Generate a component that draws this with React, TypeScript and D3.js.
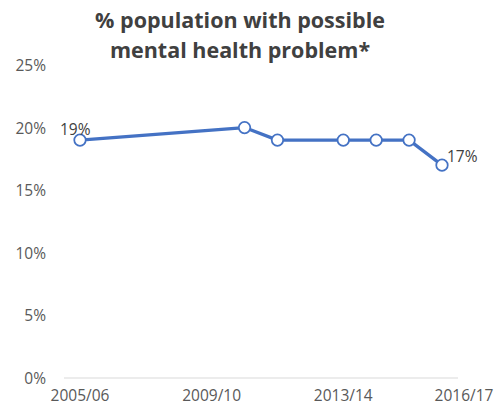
import React from "react";
import * as d3 from "d3";

const categories = ["2005/06","2006/07","2007/08","2008/09","2009/10","2010/11","2011/12","2012/13","2013/14","2014/15","2015/16","2016/17"];
const values: (number | null)[] = [19, null, null, null, null, 20, 19, null, 19, 19, 19, 17];
const yTicks = [0, 5, 10, 15, 20, 25];
const xLabelCats = ["2005/06", "2009/10", "2013/14", "2016/17"];
const titleLines = ["% population with possible", "mental health problem*"];

const W = 494, H = 407;
const font = "'Open Sans', 'Liberation Sans', sans-serif";

export default function App() {
  const x = d3.scalePoint<string>().domain(categories).range([80, 442]);
  const y = d3.scaleLinear().domain([0, 25]).range([378, 65]);
  const pts = categories
    .map((c, i) => ({ c, v: values[i] }))
    .filter((d) => d.v !== null) as { c: string; v: number }[];
  const line = d3.line<{ c: string; v: number }>().x((d) => x(d.c)!).y((d) => y(d.v));
  const first = pts[0];
  const last = pts[pts.length - 1];
  return (
    <svg width={W} height={H} style={{ position: "absolute", left: 0, top: 0 }} fontFamily={font}>
      <rect width={W} height={H} fill="#fff" />
      {titleLines.map((t, i) => (
        <text key={i} x={240} y={28 + i * 30} textAnchor="middle" fontSize={21.5} fontWeight="bold" fill="#404040">{t}</text>
      ))}
      {yTicks.map((t) => (
        <text key={t} x={46} y={y(t) + 6} textAnchor="end" fontSize={15.5} fill="#595959">{t}%</text>
      ))}
      <line x1={64} x2={458} y1={y(0)} y2={y(0)} stroke="#d9d9d9" strokeWidth={1} />
      {xLabelCats.map((c, i) => {
        const isLast = i === xLabelCats.length - 1;
        return (
          <text key={c} x={isLast ? x(c)! + 22 : x(c)!} y={y(0) + 23} textAnchor="middle" fontSize={15.5} fill="#595959">{c}</text>
        );
      })}
      <path d={line(pts)!} fill="none" stroke="#4472c4" strokeWidth={3.25} strokeLinejoin="round" />
      {pts.map((d) => (
        <circle key={d.c} cx={x(d.c)} cy={y(d.v)} r={5.75} fill="#fff" stroke="#4472c4" strokeWidth={1.75} />
      ))}
      <text x={x(first.c)! - 20} y={y(first.v) - 5} fontSize={15.5} fill="#404040">{first.v}%</text>
      <text x={x(last.c)! + 5} y={y(last.v) - 3} fontSize={15.5} fill="#404040">{last.v}%</text>
    </svg>
  );
}
